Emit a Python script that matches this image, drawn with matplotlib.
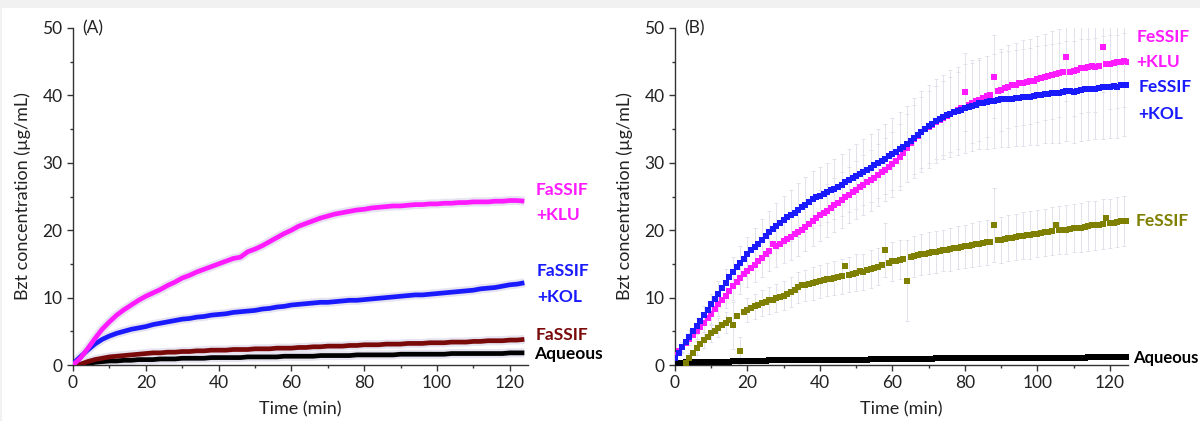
import numpy as np
import matplotlib
matplotlib.use('Agg')
import matplotlib.pyplot as plt
from matplotlib.patches import Rectangle
from matplotlib.ticker import MultipleLocator

plt.rcParams['font.family'] = ['Lato', 'DejaVu Sans']

# ---------------- Panel A data (every 2 min) ----------------
time_a = np.arange(0, 125, 2)
fassif_klu = [0.0, 1.0, 2.4, 3.9, 5.3, 6.4, 7.4, 8.2, 8.9, 9.6,
              10.2, 10.7, 11.2, 11.8, 12.3, 12.9, 13.3, 13.8, 14.2, 14.6,
              15.0, 15.4, 15.8, 16.0, 16.8, 17.2, 17.7, 18.3, 18.9, 19.5,
              20.0, 20.6, 21.0, 21.4, 21.8, 22.1, 22.4, 22.6, 22.8, 23.0,
              23.1, 23.3, 23.4, 23.5, 23.6, 23.6, 23.7, 23.8, 23.8, 23.9,
              23.9, 24.0, 24.0, 24.1, 24.1, 24.2, 24.2, 24.2, 24.3, 24.3,
              24.4, 24.4, 24.3]
fassif_kol = [0.2, 1.2, 2.2, 3.1, 3.8, 4.3, 4.7, 5.0, 5.3, 5.5,
              5.7, 6.0, 6.2, 6.4, 6.6, 6.8, 6.9, 7.1, 7.2, 7.4,
              7.5, 7.6, 7.8, 7.9, 8.0, 8.1, 8.3, 8.4, 8.6, 8.7,
              8.9, 9.0, 9.1, 9.2, 9.3, 9.3, 9.4, 9.5, 9.6, 9.6,
              9.7, 9.8, 9.9, 10.0, 10.1, 10.2, 10.3, 10.4, 10.4, 10.5,
              10.6, 10.7, 10.8, 10.9, 11.0, 11.1, 11.3, 11.4, 11.5, 11.7,
              11.9, 12.0, 12.2]
fassif = [0.0, 0.1, 0.5, 0.8, 1.0, 1.2, 1.3, 1.4, 1.5, 1.6,
          1.7, 1.8, 1.8, 1.9, 1.9, 2.0, 2.0, 2.1, 2.1, 2.2,
          2.2, 2.2, 2.3, 2.3, 2.3, 2.4, 2.4, 2.4, 2.5, 2.5,
          2.5, 2.6, 2.6, 2.7, 2.7, 2.8, 2.8, 2.8, 2.9, 2.9,
          3.0, 3.0, 3.0, 3.1, 3.1, 3.1, 3.2, 3.2, 3.2, 3.3,
          3.3, 3.3, 3.4, 3.4, 3.4, 3.5, 3.5, 3.6, 3.6, 3.6,
          3.7, 3.7, 3.8]
aqueous_a = [0.0, 0.1, 0.2, 0.4, 0.5, 0.6, 0.6, 0.7, 0.7, 0.8,
             0.8, 0.8, 0.9, 0.9, 0.9, 1.0, 1.0, 1.0, 1.0, 1.1,
             1.1, 1.1, 1.1, 1.1, 1.2, 1.2, 1.2, 1.2, 1.2, 1.3,
             1.3, 1.3, 1.3, 1.3, 1.4, 1.4, 1.4, 1.4, 1.4, 1.5,
             1.5, 1.5, 1.5, 1.5, 1.5, 1.6, 1.6, 1.6, 1.6, 1.6,
             1.6, 1.6, 1.7, 1.7, 1.7, 1.7, 1.7, 1.7, 1.7, 1.7,
             1.8, 1.8, 1.8]

# ---------------- Panel B data (every 1 min) ----------------
time_b = np.arange(0, 126, 1)
fessif_klu = [1.5, 2.1, 2.7, 3.3, 3.9, 4.4, 5.0, 5.6, 6.2, 6.9,
              7.6, 8.3, 9.0, 9.6, 10.3, 11.0, 11.7, 12.3, 12.9, 13.5,
              14.0, 14.4, 14.9, 15.4, 15.9, 16.4, 16.9, 17.9, 17.6, 18.0,
              18.4, 18.7, 19.0, 19.4, 19.7, 20.1, 20.5, 20.9, 21.4, 21.8,
              22.2, 22.6, 22.9, 23.3, 23.7, 24.1, 24.5, 24.9, 25.2, 25.6,
              26.0, 26.4, 26.7, 27.1, 27.4, 27.8, 28.2, 28.6, 29.0, 29.4,
              29.8, 30.3, 30.8, 31.4, 32.2, 32.9, 33.5, 34.0, 34.5, 35.0,
              35.3, 35.6, 36.0, 36.3, 36.6, 36.9, 37.2, 37.5, 37.8, 38.1,
              40.5, 38.6, 38.9, 39.1, 39.3, 39.6, 39.9, 40.1, 42.8, 40.6,
              40.8, 41.1, 41.3, 41.5, 41.6, 41.8, 41.9, 42.0, 42.1, 42.2,
              42.4, 42.6, 42.7, 42.9, 43.0, 43.2, 43.3, 43.5, 45.7, 43.4,
              43.6, 43.8, 44.0, 44.1, 44.2, 44.3, 44.2, 44.4, 47.2, 44.6,
              44.7, 44.8, 44.9, 45.0, 45.1, 44.9]
fessif_kol = [1.0, 1.8, 2.6, 3.4, 4.2, 5.0, 5.8, 6.6, 7.4, 8.2,
              9.0, 9.8, 10.6, 11.4, 12.2, 13.0, 13.8, 14.5, 15.2, 15.8,
              16.4, 17.0, 17.5, 18.0, 18.6, 19.2, 19.7, 20.2, 20.6, 21.0,
              21.5, 21.9, 22.2, 22.6, 23.0, 23.4, 23.8, 24.2, 24.6, 24.9,
              25.1, 25.3, 25.6, 25.9, 26.1, 26.4, 26.7, 27.1, 27.4, 27.7,
              28.0, 28.3, 28.6, 28.9, 29.2, 29.6, 29.9, 30.3, 30.6, 31.0,
              31.3, 31.6, 32.0, 32.4, 32.8, 33.3, 33.7, 34.1, 34.6, 35.0,
              35.4, 35.8, 36.2, 36.5, 36.8, 37.1, 37.3, 37.5, 37.7, 37.9,
              38.1, 38.3, 38.5, 38.6, 38.8, 38.9, 39.0, 39.1, 39.2, 39.3,
              39.4, 39.4, 39.5, 39.5, 39.6, 39.6, 39.7, 39.7, 39.8, 39.9,
              40.0, 40.1, 40.2, 40.2, 40.3, 40.4, 40.4, 40.5, 40.6, 40.6,
              40.5, 40.7, 40.8, 40.9, 40.9, 41.0, 41.0, 41.1, 41.2, 41.2,
              41.3, 41.4, 41.3, 41.5, 41.6, 41.5]
fessif = [np.nan, np.nan, np.nan, 0.3, 1.0, 1.8, 2.5, 3.1, 3.7, 4.2,
          4.7, 5.1, 5.5, 5.9, 6.3, 6.7, 5.9, 7.3, 2.1, 7.9,
          8.2, 8.5, 8.7, 8.9, 9.2, 9.4, 9.6, 9.6, 9.9, 10.1,
          10.3, 10.5, 10.8, 11.2, 11.5, 11.8, 11.8, 12.0, 12.1, 12.3,
          12.4, 12.6, 12.7, 12.7, 12.9, 13.0, 13.2, 14.7, 13.4, 13.5,
          13.7, 13.9, 13.8, 14.1, 14.2, 14.4, 14.6, 14.8, 17.0, 15.2,
          15.4, 15.5, 15.6, 15.8, 12.5, 16.0, 16.1, 16.3, 16.4, 16.5,
          16.6, 16.7, 16.8, 16.9, 17.0, 17.1, 17.2, 17.3, 17.4, 17.5,
          17.6, 17.7, 17.8, 17.9, 18.0, 18.1, 18.2, 18.3, 20.8, 18.5,
          18.6, 18.7, 18.8, 18.9, 19.0, 19.1, 19.2, 19.3, 19.3, 19.4,
          19.5, 19.6, 19.7, 19.8, 19.9, 20.8, 20.0, 20.1, 20.1, 20.2,
          20.3, 20.4, 20.4, 20.5, 20.6, 20.7, 20.7, 20.8, 20.9, 21.8,
          21.0, 21.1, 21.2, 21.3, 21.4, 21.3]
aqueous_b = [0.3, 0.3, 0.3, 0.4, 0.4, 0.4, 0.4, 0.4, 0.4, 0.5,
             0.5, 0.5, 0.5, 0.5, 0.5, 0.5, 0.6, 0.6, 0.6, 0.6,
             0.6, 0.6, 0.6, 0.6, 0.6, 0.6, 0.7, 0.7, 0.7, 0.7,
             0.7, 0.7, 0.7, 0.7, 0.7, 0.7, 0.7, 0.8, 0.8, 0.8,
             0.8, 0.8, 0.8, 0.8, 0.8, 0.8, 0.8, 0.8, 0.8, 0.8,
             0.8, 0.8, 0.8, 0.8, 0.9, 0.9, 0.9, 0.9, 0.9, 0.9,
             0.9, 0.9, 0.9, 0.9, 0.9, 0.9, 0.9, 0.9, 0.9, 0.9,
             0.9, 0.9, 1.0, 1.0, 1.0, 1.0, 1.0, 1.0, 1.0, 1.0,
             1.0, 1.0, 1.0, 1.0, 1.0, 1.0, 1.0, 1.0, 1.0, 1.0,
             1.0, 1.0, 1.0, 1.0, 1.1, 1.1, 1.1, 1.1, 1.1, 1.1,
             1.1, 1.1, 1.1, 1.1, 1.1, 1.1, 1.1, 1.1, 1.1, 1.1,
             1.1, 1.1, 1.1, 1.1, 1.2, 1.2, 1.2, 1.2, 1.2, 1.2,
             1.2, 1.2, 1.2, 1.2, 1.2, 1.2]

# error bars (every 2 min)
err_klu = [0.5, 0.7, 0.9, 1.1, 1.3, 1.5, 1.7, 1.9, 2.1, 2.3, 2.5,
           2.6, 2.8, 3.0, 3.1, 3.3, 3.4, 3.5, 3.6, 3.7, 3.8,
           3.9, 4.0, 4.1, 4.2, 4.3, 4.4, 4.5, 4.6, 4.7, 4.8,
           4.9, 5.0, 5.1, 5.2, 5.3, 5.4, 5.5, 5.6, 5.7, 5.8,
           5.9, 6.0, 6.0, 6.1, 6.1, 6.2, 6.2, 6.3, 6.3, 6.4,
           6.4, 6.5, 6.5, 6.5, 6.6, 6.6, 6.6, 6.7, 6.7, 6.7,
           6.8, 6.8]
err_kol = [0.5, 0.8, 1.0, 1.2, 1.4, 1.6, 1.8, 2.0, 2.2, 2.4, 2.6,
           2.8, 3.0, 3.2, 3.4, 3.6, 3.8, 4.0, 4.1, 4.2, 4.3,
           4.4, 4.5, 4.6, 4.7, 4.8, 4.9, 5.0, 5.1, 5.2, 5.3,
           5.5, 5.7, 5.9, 6.0, 6.1, 6.2, 6.3, 6.4, 6.5, 6.6,
           6.7, 6.8, 6.9, 7.0, 7.0, 7.1, 7.1, 7.2, 7.2, 7.3,
           7.3, 7.4, 7.4, 7.4, 7.5, 7.5, 7.5, 7.5, 7.6, 7.6,
           7.6, 7.6]
err_fessif = [np.nan, np.nan, 0.8, 1.0, 1.2, 1.3, 1.4, 1.5, 3.5, 2.0,
              1.8, 1.9, 2.0, 2.0, 2.1, 2.2, 2.2, 2.3, 2.3, 2.4,
              2.4, 2.5, 2.5, 2.6, 2.6, 2.7, 2.7, 2.8, 2.8, 4.0,
              2.9, 2.9, 6.0, 3.0, 3.0, 3.1, 3.1, 3.1, 3.2, 3.2,
              3.2, 3.3, 3.3, 3.3, 5.5, 3.4, 3.4, 3.4, 3.5, 3.5,
              3.5, 3.5, 3.6, 3.6, 3.6, 3.6, 3.7, 3.7, 3.7, 3.7,
              3.7, 3.7, 3.7]

C_KLU = '#ff1aff'
C_KOL = '#1a1aff'
C_FA = '#7a0a0a'
C_FE = '#7f7f00'
C_AQ = '#000000'
C_ERR = '#e2e2ec'
C_HALO = '#e6e4f0'
TXT = '#222222'

fig = plt.figure(figsize=(12, 4.21), dpi=100)
fig.patch.set_facecolor('#f1f1f1')
fig.add_artist(Rectangle((2 / 1200, 0), 1, 1 - 8 / 421, transform=fig.transFigure,
                         facecolor='white', edgecolor='none', zorder=-5))

axA = fig.add_axes([73 / 1200, 1 - 365 / 421, 455 / 1200, 337 / 421])
axB = fig.add_axes([675 / 1200, 1 - 365 / 421, 453 / 1200, 337 / 421])


def style(ax, tag):
    ax.set_xlim(0, 125)
    ax.set_ylim(0, 50)
    for s in ['top', 'right']:
        ax.spines[s].set_visible(False)
    for s in ['left', 'bottom']:
        ax.spines[s].set_color('#333333')
        ax.spines[s].set_linewidth(1.0)
    ax.xaxis.set_major_locator(MultipleLocator(20))
    ax.xaxis.set_minor_locator(MultipleLocator(10))
    ax.yaxis.set_major_locator(MultipleLocator(10))
    ax.yaxis.set_minor_locator(MultipleLocator(5))
    ax.tick_params(which='major', direction='out', length=4.5, width=1.0,
                   color='#333333', labelsize=12.5, labelcolor=TXT, pad=3)
    ax.tick_params(which='minor', direction='out', length=2.5, width=1.0,
                   color='#333333')
    ax.set_xlabel('Time (min)', fontsize=13, color=TXT)
    ax.set_ylabel('Bzt concentration (µg/mL)', fontsize=13, color=TXT)
    ax.yaxis.set_label_coords(-0.092, 0.5)
    ax.xaxis.set_label_coords(0.5, -0.108)
    ax.text(2.5, 50, tag, fontsize=12.5, color=TXT, va='center', ha='left')
    ax.patch.set_alpha(0)


style(axA, '(A)')
style(axB, '(B)')

# Panel A
series_a = [(aqueous_a, C_AQ), (fassif, C_FA), (fassif_kol, C_KOL), (fassif_klu, C_KLU)]
for y, c in series_a:
    axA.plot(time_a, y, color=C_HALO, lw=6.5, solid_capstyle='butt', zorder=1)
for y, c in series_a:
    axA.plot(time_a, y, color=c, lw=3.4, solid_capstyle='butt', zorder=3)

lab_kw = dict(fontsize=12.5, fontweight='bold', ha='left', va='center', clip_on=False)
axA.text(127.2, 26.0, 'FaSSIF', color=C_KLU, **lab_kw)
axA.text(127.2, 22.2, '+KLU', color=C_KLU, **lab_kw)
axA.text(127.5, 14.0, 'FaSSIF', color=C_KOL, **lab_kw)
axA.text(127.5, 10.1, '+KOL', color=C_KOL, **lab_kw)
axA.text(127.0, 4.5, 'FaSSIF', color=C_FA, **lab_kw)
axA.text(126.8, 1.6, 'Aqueous', color=C_AQ, **lab_kw)

# Panel B
tb2 = time_b[::2]
for y, e in [(fessif, err_fessif), (fessif_kol, err_kol), (fessif_klu, err_klu)]:
    axB.errorbar(tb2, np.asarray(y)[::2][:len(e)], yerr=e, fmt='none', ecolor=C_ERR,
                 elinewidth=0.7, capsize=1.5, capthick=0.7, zorder=1)
axB.plot(time_b, aqueous_b, 's', color=C_AQ, ms=5.0, mew=0, zorder=3)
axB.plot(time_b, fessif, 's', color=C_FE, ms=4.2, mew=0, zorder=3)
axB.plot(time_b, fessif_klu, 's', color=C_KLU, ms=4.2, mew=0, zorder=3)
axB.plot(time_b, fessif_kol, 's', color=C_KOL, ms=4.2, mew=0, zorder=4)

axB.text(127.4, 48.6, 'FeSSIF', color=C_KLU, **lab_kw)
axB.text(127.4, 45.0, '+KLU', color=C_KLU, **lab_kw)
axB.text(127.8, 41.2, 'FeSSIF', color=C_KOL, **lab_kw)
axB.text(127.8, 37.3, '+KOL', color=C_KOL, **lab_kw)
axB.text(127.0, 21.4, 'FeSSIF', color=C_FE, **lab_kw)
axB.text(126.3, 1.0, 'Aqueous', color=C_AQ, **dict(lab_kw, fontsize=12))

fig.savefig('out.png', dpi=100)
